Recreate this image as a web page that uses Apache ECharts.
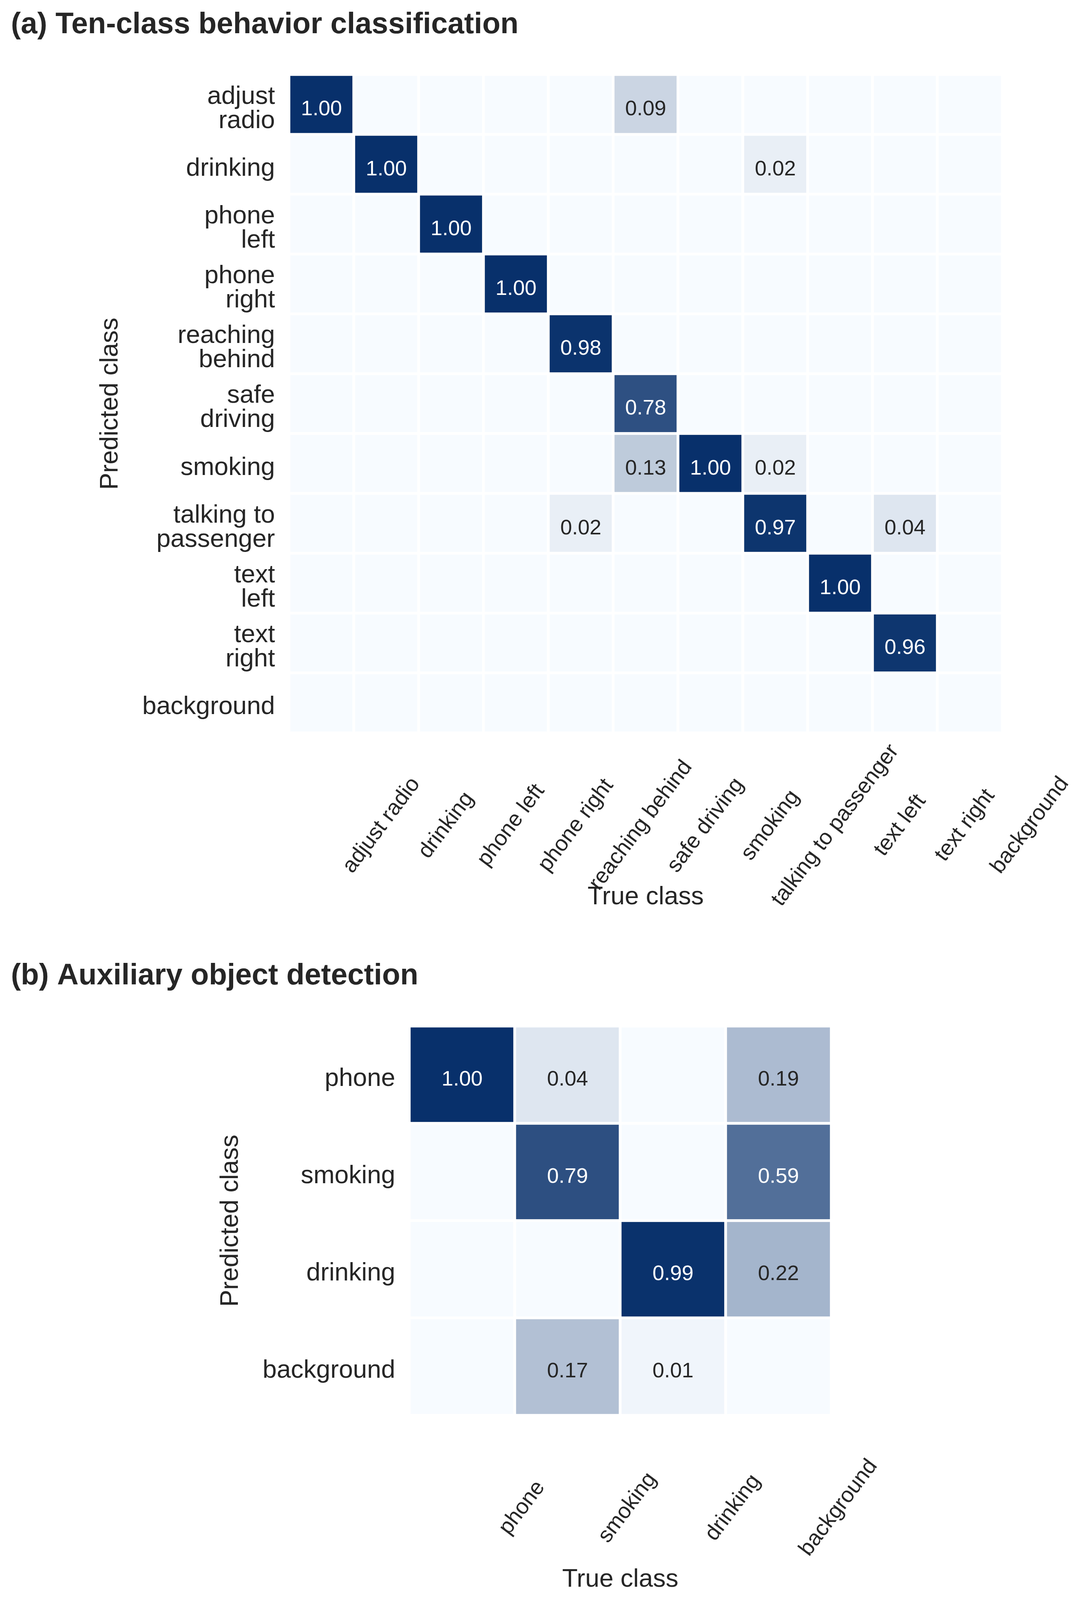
<!DOCTYPE html>
<html>
<head>
<meta charset="utf-8">
<title>Confusion matrices</title>
<script src="https://cdn.jsdelivr.net/npm/echarts@6/dist/echarts.min.js"></script>
<style>
  html, body { margin: 0; padding: 0; background: #fff; overflow: hidden; }
  #chart { width: 2765px; height: 4440px; }
</style>
</head>
<body>
<div id="chart"></div>
<script>
'use strict';

// (a) 十类行为 —— 行为预测类别，列为真实类别
var classesA = ['adjust radio', 'drinking', 'phone left', 'phone right', 'reaching behind',
    'safe driving', 'smoking', 'talking to passenger', 'text left', 'text right', 'background'];
var rowLabelsA = ['adjust\nradio', 'drinking', 'phone\nleft', 'phone\nright', 'reaching\nbehind',
    'safe\ndriving', 'smoking', 'talking to\npassenger', 'text\nleft', 'text\nright', 'background'];
var matrixA = [
    [1.00, 0, 0, 0, 0, 0.09, 0, 0, 0, 0, 0],
    [0, 1.00, 0, 0, 0, 0, 0, 0.02, 0, 0, 0],
    [0, 0, 1.00, 0, 0, 0, 0, 0, 0, 0, 0],
    [0, 0, 0, 1.00, 0, 0, 0, 0, 0, 0, 0],
    [0, 0, 0, 0, 0.98, 0, 0, 0, 0, 0, 0],
    [0, 0, 0, 0, 0, 0.78, 0, 0, 0, 0, 0],
    [0, 0, 0, 0, 0, 0.13, 1.00, 0.02, 0, 0, 0],
    [0, 0, 0, 0, 0.02, 0, 0, 0.97, 0, 0.04, 0],
    [0, 0, 0, 0, 0, 0, 0, 0, 1.00, 0, 0],
    [0, 0, 0, 0, 0, 0, 0, 0, 0, 0.96, 0],
    [0, 0, 0, 0, 0, 0, 0, 0, 0, 0, 0]
];

// (b) 辅助目标检测
var classesB = ['phone', 'smoking', 'drinking', 'background'];
var matrixB = [
    [1.00, 0.04, 0, 0.19],
    [0, 0.79, 0, 0.59],
    [0, 0, 0.99, 0.22],
    [0, 0.17, 0.01, 0]
];

var FONT = "'Liberation Sans', Arial, Helvetica, sans-serif";
var TEXT = '#262626';

// 画布按窗口实际大小缩放（原图 2765 x 4440）
var W = window.innerWidth || 2765;
var H = window.innerHeight || 4440;
var sx = W / 2765, sy = H / 4440, fs = Math.sqrt(sx * sy);
function X(v) { return Math.round(v * sx); }
function Y(v) { return Math.round(v * sy); }
function F(v) { return Math.round(v * fs); }

var dom = document.getElementById('chart');
dom.style.width = W + 'px';
dom.style.height = H + 'px';

// 白 -> 深蓝，带 gamma 的色带
var cLow = [247, 251, 255], cHigh = [8, 48, 107];
function mix(t) {
    var c = cLow.map(function (lo, k) {
        return Math.round(lo + (cHigh[k] - lo) * t);
    });
    return 'rgb(' + c.join(',') + ')';
}
var colorStops = [];
for (var s = 0; s <= 40; s++) {
    colorStops.push(mix(Math.pow(s / 40, 0.7)));
}

function toCells(matrix) {
    var cells = [];
    matrix.forEach(function (row, i) {
        row.forEach(function (v, j) {
            cells.push({
                value: [j, i, v],
                label: {color: v > 0.45 ? '#ffffff' : TEXT}
            });
        });
    });
    return cells;
}

var chart = echarts.init(dom, null, {renderer: 'canvas', width: W, height: H});

var hidden = {show: false};
var nameStyle = {fontSize: F(68), color: TEXT, fontFamily: FONT};
// 原图 55° 的标签在纵向压缩后的角度
var labelRotate = Math.round(Math.atan(Math.tan(55 * Math.PI / 180) * sy / sx) * 180 / Math.PI);
// 标签网格相对主网格的偏移：x 标签右移，y 标签下移
var shiftX = 154, shiftY = 12;

function mainX(gridIndex, cats) {
    return {
        type: 'category', gridIndex: gridIndex, data: cats, position: 'bottom',
        axisLine: hidden, axisTick: hidden, axisLabel: hidden, splitLine: hidden,
        name: 'True class', nameLocation: 'middle', nameGap: Y(457) - F(34),
        nameTextStyle: nameStyle
    };
}
function labelX(gridIndex, cats) {
    return {
        type: 'category', gridIndex: gridIndex, data: cats, position: 'bottom',
        axisLine: hidden, axisTick: hidden, splitLine: hidden,
        axisLabel: {
            interval: 0, rotate: labelRotate, align: 'center', verticalAlign: 'middle',
            margin: Y(257 - shiftY), fontSize: F(58), color: TEXT, fontFamily: FONT
        }
    };
}
function mainY(gridIndex, labels) {
    return {
        type: 'category', gridIndex: gridIndex, data: labels, inverse: true,
        axisLine: hidden, axisTick: hidden, axisLabel: hidden, splitLine: hidden,
        name: 'Predicted class', nameLocation: 'middle', nameGap: X(457) - F(34),
        nameRotate: 90, nameTextStyle: nameStyle
    };
}
function labelY(gridIndex, labels) {
    return {
        type: 'category', gridIndex: gridIndex, data: labels, inverse: true,
        axisLine: hidden, axisTick: hidden, splitLine: hidden,
        axisLabel: {
            interval: 0, margin: X(36 + shiftX), fontSize: F(68), lineHeight: F(65),
            color: TEXT, fontFamily: FONT, align: 'right'
        }
    };
}
function heat(xi, cells) {
    return {
        type: 'heatmap', xAxisIndex: xi, yAxisIndex: xi, data: cells,
        itemStyle: {borderColor: '#ffffff', borderWidth: 7},
        emphasis: {disabled: true},
        label: {
            show: true, fontSize: F(56), fontFamily: FONT, offset: [0, F(14)],
            formatter: function (p) {
                var v = p.value[2];
                return v > 0 ? v.toFixed(2) : '';
            }
        }
    };
}
function labelGrid(left, top, size) {
    return {
        left: X(left + shiftX), top: Y(top + shiftY), width: X(size), height: Y(size),
        outerBoundsMode: 'none'
    };
}

var titleStyle = {fontSize: F(79), fontWeight: 'bold', color: TEXT, fontFamily: FONT};

var option = {
    backgroundColor: '#ffffff',
    animation: false,
    title: [
        {text: '(a) Ten-class behavior classification', left: X(28), top: Y(28), padding: 0, textStyle: titleStyle},
        {text: '(b) Auxiliary object detection', left: X(28), top: Y(2668), padding: 0, textStyle: titleStyle}
    ],
    grid: [
        {left: X(740), top: Y(207), width: X(1826), height: Y(1826), outerBoundsMode: 'none'},
        labelGrid(740, 207, 1826),
        {left: X(1048), top: Y(2848), width: X(1080), height: Y(1080), outerBoundsMode: 'none'},
        labelGrid(1048, 2848, 1080)
    ],
    xAxis: [
        mainX(0, classesA),
        labelX(1, classesA),
        mainX(2, classesB),
        labelX(3, classesB)
    ],
    yAxis: [
        mainY(0, rowLabelsA),
        labelY(1, rowLabelsA),
        mainY(2, classesB),
        labelY(3, classesB)
    ],
    visualMap: {
        type: 'continuous', show: false, min: 0, max: 1, dimension: 2,
        seriesIndex: [0, 1], inRange: {color: colorStops}
    },
    series: [
        heat(0, toCells(matrixA)),
        heat(2, toCells(matrixB))
    ]
};

chart.setOption(option);
</script>
</body>
</html>
